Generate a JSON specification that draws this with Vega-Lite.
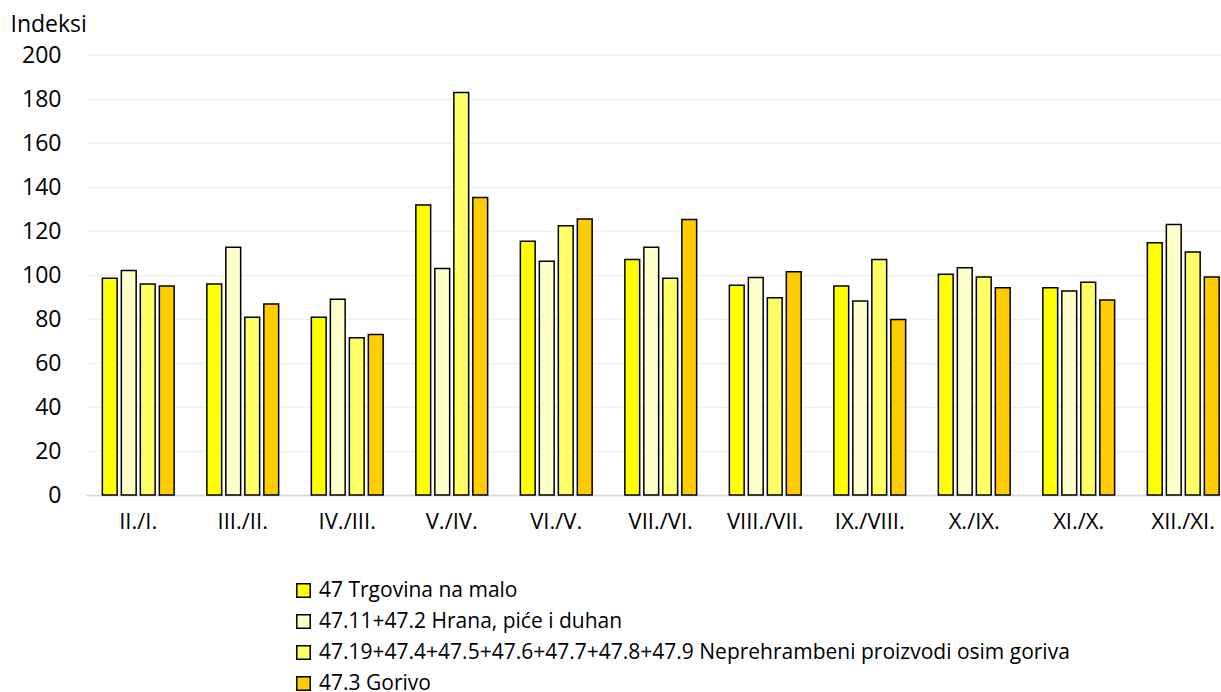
{
  "$schema": "https://vega.github.io/schema/vega-lite/v6.json",
  "description": "Indeksi trgovine na malo po mjesecima",
  "width": 1135,
  "height": 440,
  "autosize": {"type": "none"},
  "padding": {"left": 86, "top": 55, "right": 0, "bottom": 197},
  "background": "white",
  "config": {
    "view": {"stroke": null},
    "font": "Open Sans"
  },
  "data": {
    "values": [
      {"m": "II./I.", "s": "47 Trgovina na malo", "v": 98.5},
      {"m": "II./I.", "s": "47.11+47.2 Hrana, piće i duhan", "v": 102},
      {"m": "II./I.", "s": "47.19+47.4+47.5+47.6+47.7+47.8+47.9 Neprehrambeni proizvodi osim goriva", "v": 95.9},
      {"m": "II./I.", "s": "47.3 Gorivo", "v": 95},
      {"m": "III./II.", "s": "47 Trgovina na malo", "v": 95.9},
      {"m": "III./II.", "s": "47.11+47.2 Hrana, piće i duhan", "v": 112.6},
      {"m": "III./II.", "s": "47.19+47.4+47.5+47.6+47.7+47.8+47.9 Neprehrambeni proizvodi osim goriva", "v": 80.8},
      {"m": "III./II.", "s": "47.3 Gorivo", "v": 86.8},
      {"m": "IV./III.", "s": "47 Trgovina na malo", "v": 80.8},
      {"m": "IV./III.", "s": "47.11+47.2 Hrana, piće i duhan", "v": 89},
      {"m": "IV./III.", "s": "47.19+47.4+47.5+47.6+47.7+47.8+47.9 Neprehrambeni proizvodi osim goriva", "v": 71.5},
      {"m": "IV./III.", "s": "47.3 Gorivo", "v": 72.9},
      {"m": "V./IV.", "s": "47 Trgovina na malo", "v": 131.8},
      {"m": "V./IV.", "s": "47.11+47.2 Hrana, piće i duhan", "v": 103},
      {"m": "V./IV.", "s": "47.19+47.4+47.5+47.6+47.7+47.8+47.9 Neprehrambeni proizvodi osim goriva", "v": 182.9},
      {"m": "V./IV.", "s": "47.3 Gorivo", "v": 135.2},
      {"m": "VI./V.", "s": "47 Trgovina na malo", "v": 115.3},
      {"m": "VI./V.", "s": "47.11+47.2 Hrana, piće i duhan", "v": 106.2},
      {"m": "VI./V.", "s": "47.19+47.4+47.5+47.6+47.7+47.8+47.9 Neprehrambeni proizvodi osim goriva", "v": 122.4},
      {"m": "VI./V.", "s": "47.3 Gorivo", "v": 125.5},
      {"m": "VII./VI.", "s": "47 Trgovina na malo", "v": 107.1},
      {"m": "VII./VI.", "s": "47.11+47.2 Hrana, piće i duhan", "v": 112.6},
      {"m": "VII./VI.", "s": "47.19+47.4+47.5+47.6+47.7+47.8+47.9 Neprehrambeni proizvodi osim goriva", "v": 98.5},
      {"m": "VII./VI.", "s": "47.3 Gorivo", "v": 125.2},
      {"m": "VIII./VII.", "s": "47 Trgovina na malo", "v": 95.3},
      {"m": "VIII./VII.", "s": "47.11+47.2 Hrana, piće i duhan", "v": 98.9},
      {"m": "VIII./VII.", "s": "47.19+47.4+47.5+47.6+47.7+47.8+47.9 Neprehrambeni proizvodi osim goriva", "v": 89.7},
      {"m": "VIII./VII.", "s": "47.3 Gorivo", "v": 101.5},
      {"m": "IX./VIII.", "s": "47 Trgovina na malo", "v": 95},
      {"m": "IX./VIII.", "s": "47.11+47.2 Hrana, piće i duhan", "v": 88.2},
      {"m": "IX./VIII.", "s": "47.19+47.4+47.5+47.6+47.7+47.8+47.9 Neprehrambeni proizvodi osim goriva", "v": 107},
      {"m": "IX./VIII.", "s": "47.3 Gorivo", "v": 79.8},
      {"m": "X./IX.", "s": "47 Trgovina na malo", "v": 100.3},
      {"m": "X./IX.", "s": "47.11+47.2 Hrana, piće i duhan", "v": 103.3},
      {"m": "X./IX.", "s": "47.19+47.4+47.5+47.6+47.7+47.8+47.9 Neprehrambeni proizvodi osim goriva", "v": 99.1},
      {"m": "X./IX.", "s": "47.3 Gorivo", "v": 94.2},
      {"m": "XI./X.", "s": "47 Trgovina na malo", "v": 94.2},
      {"m": "XI./X.", "s": "47.11+47.2 Hrana, piće i duhan", "v": 92.7},
      {"m": "XI./X.", "s": "47.19+47.4+47.5+47.6+47.7+47.8+47.9 Neprehrambeni proizvodi osim goriva", "v": 96.7},
      {"m": "XI./X.", "s": "47.3 Gorivo", "v": 88.6},
      {"m": "XII./XI.", "s": "47 Trgovina na malo", "v": 114.7},
      {"m": "XII./XI.", "s": "47.11+47.2 Hrana, piće i duhan", "v": 123},
      {"m": "XII./XI.", "s": "47.19+47.4+47.5+47.6+47.7+47.8+47.9 Neprehrambeni proizvodi osim goriva", "v": 110.5},
      {"m": "XII./XI.", "s": "47.3 Gorivo", "v": 99.1}
    ]
  },
  "mark": {"type": "bar", "stroke": "black", "strokeWidth": 1.5},
  "encoding": {
    "x": {
      "field": "m",
      "type": "nominal",
      "sort": null,
      "scale": {"range": [0, 1149.5], "paddingInner": 0.273, "paddingOuter": 0.1365},
      "axis": {
        "title": null,
        "ticks": false,
        "domainColor": "#d9d9d9",
        "domainWidth": 1.5,
        "labelAngle": 0,
        "labelFontSize": 22,
        "labelColor": "#000000",
        "labelPadding": 16
      }
    },
    "xOffset": {
      "field": "s",
      "type": "nominal",
      "sort": null,
      "scale": {"paddingInner": 0.22, "paddingOuter": 0.11}
    },
    "y": {
      "field": "v",
      "type": "quantitative",
      "scale": {"domain": [0, 200]},
      "axis": {
        "values": [0, 20, 40, 60, 80, 100, 120, 140, 160, 180, 200],
        "title": "Indeksi",
        "titleAngle": 0,
        "titleAlign": "left",
        "titleBaseline": "middle",
        "titleX": -76,
        "titleY": -31,
        "titleFontSize": 23,
        "titleFontWeight": "normal",
        "titleColor": "#000000",
        "domain": false,
        "ticks": false,
        "labelFontSize": 23,
        "labelColor": "#000000",
        "labelPadding": 25,
        "gridColor": "#f0f0f0",
        "gridWidth": 1.5
      }
    },
    "color": {
      "field": "s",
      "type": "nominal",
      "sort": null,
      "scale": {
        "domain": [
          "47 Trgovina na malo",
          "47.11+47.2 Hrana, piće i duhan",
          "47.19+47.4+47.5+47.6+47.7+47.8+47.9 Neprehrambeni proizvodi osim goriva",
          "47.3 Gorivo"
        ],
        "range": ["#FFFF00", "#FFFFCC", "#FFFF66", "#FFCC00"]
      },
      "legend": {
        "title": null,
        "orient": "none",
        "legendX": 207,
        "legendY": 525,
        "direction": "vertical",
        "symbolType": "square",
        "symbolSize": 180,
        "symbolStrokeColor": "black",
        "symbolStrokeWidth": 1.5,
        "labelFontSize": 21,
        "labelColor": "#000000",
        "labelLimit": 1000,
        "labelOffset": 5,
        "rowPadding": 9
      }
    }
  }
}
